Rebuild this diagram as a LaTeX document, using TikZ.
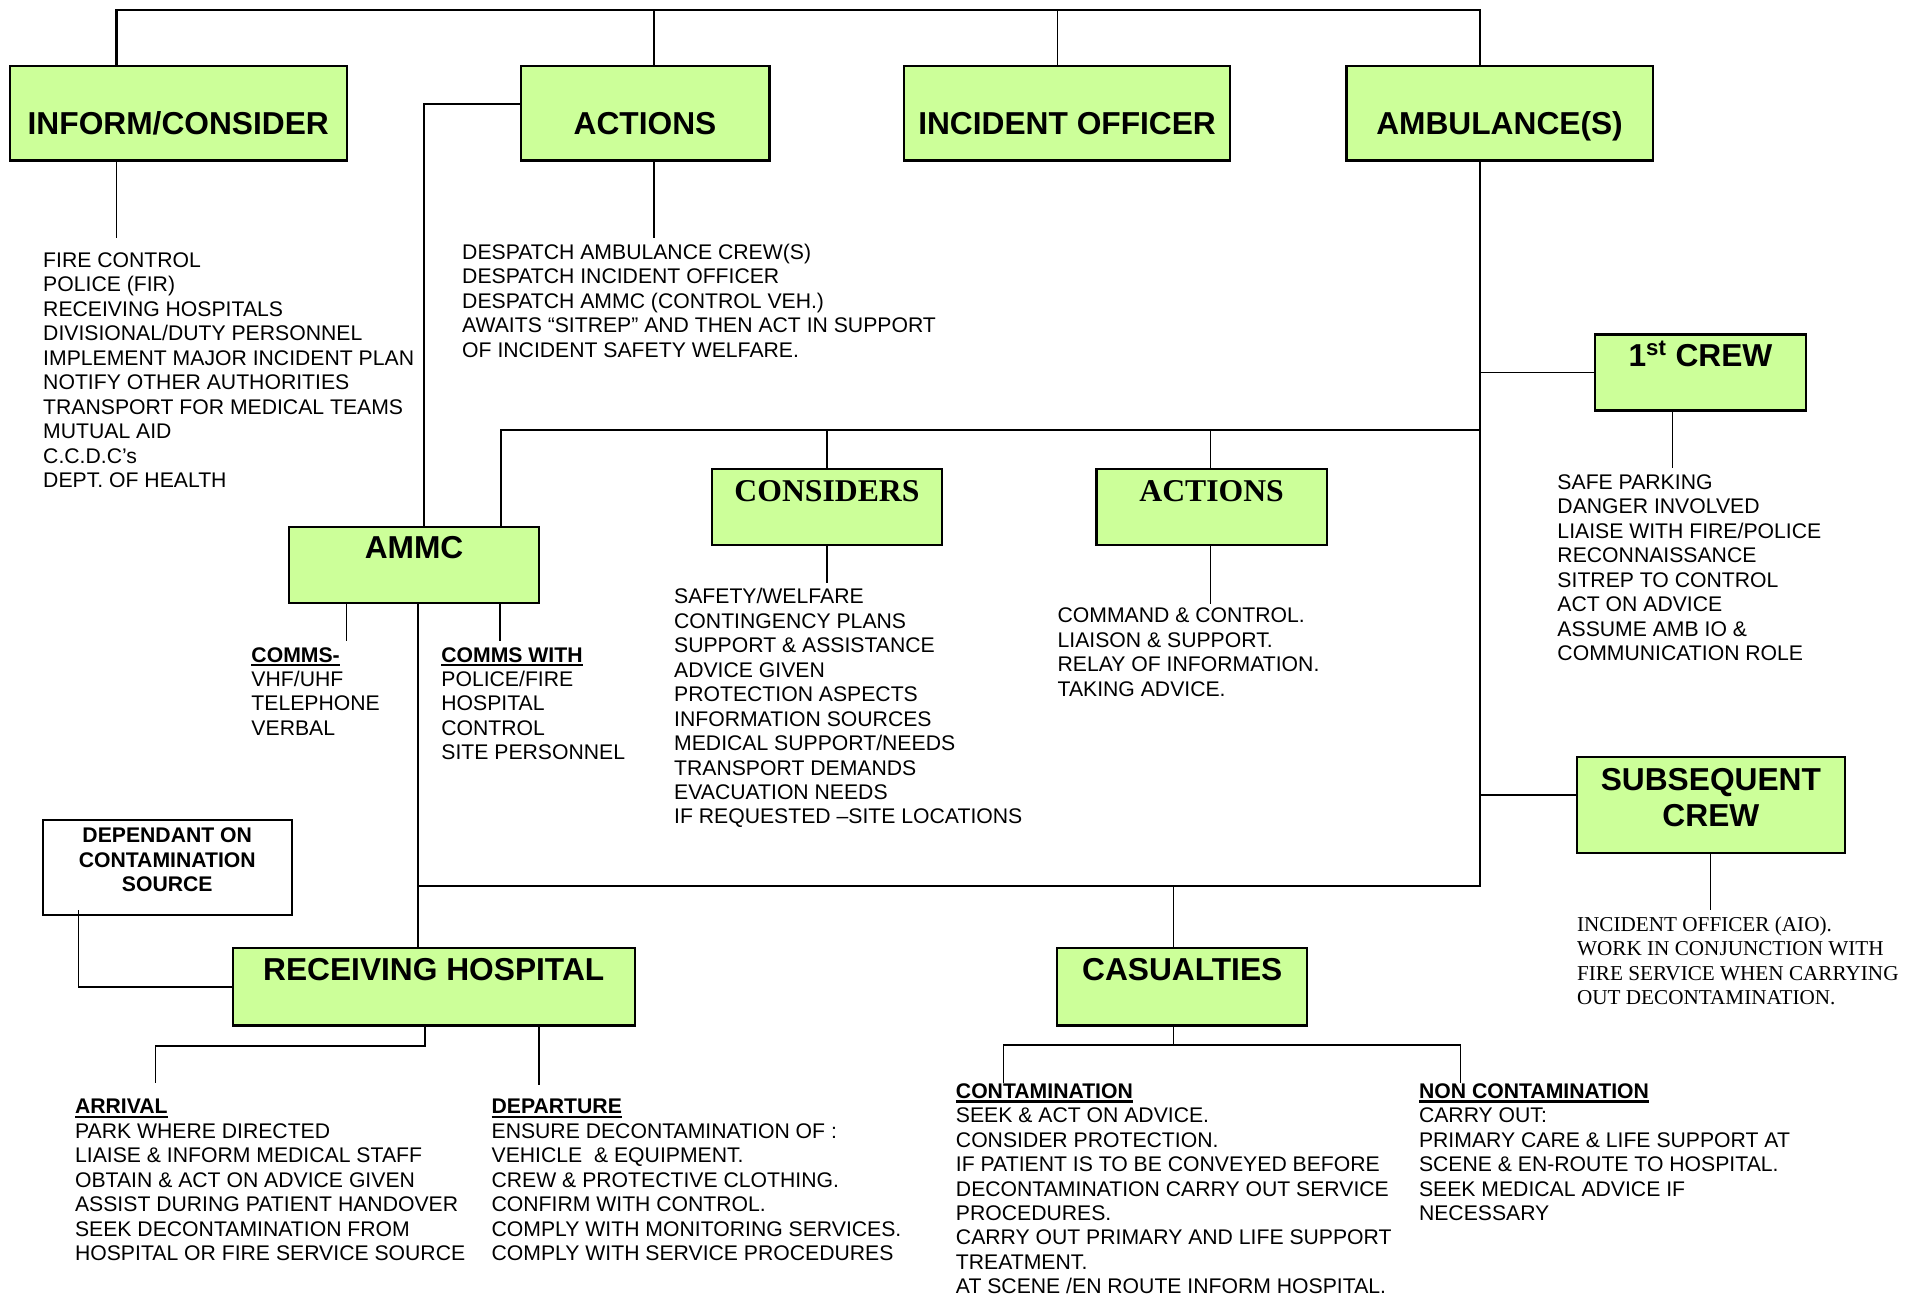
\documentclass[tikz,border=0pt]{standalone}
\usepackage{fontspec}
\setmainfont{Liberation Sans}
\newfontfamily\romfont{Liberation Serif}
\definecolor{boxgreen}{RGB}{204,255,153}
\newcommand{\uhead}[1]{\vtop{\hbox{\bfseries #1}\kern1.2pt\hrule height 1.2pt}}

\begin{document}
\begin{tikzpicture}[x=0.025cm, y=-0.025cm,
    bus/.style={line width=1.3pt, line join=miter},
    wire/.style={line width=0.9pt},
    greenbox/.style={draw, line width=1.3pt, fill=boxgreen, inner sep=0pt, font=\bfseries\fontsize{18.4}{21.3}\selectfont},
    big/.style={greenbox, minimum height=1.925cm, text height=0.86cm, text depth=0pt},
    head/.style={greenbox, minimum height=1.55cm, text height=0.46cm, text depth=0.7cm},
    serifhead/.style={head, font=\romfont\bfseries\fontsize{18.4}{21.3}\selectfont},
    note/.style={draw, line width=1.1pt, fill=white, inner sep=0pt, align=center, font=\bfseries\fontsize{12.3}{14.2}\selectfont},
    items/.style={anchor=north west, align=left, inner sep=0pt, font=\fontsize{12.3}{14.2}\selectfont},
    serifitems/.style={items, font=\romfont\fontsize{12.3}{14.2}\selectfont}]

    \useasboundingbox (0,0) rectangle (1568,1059);

    % === 第一行 ===
    \node[big, minimum width=6.875cm] (inform)  at (145.5,92.5) {INFORM/CONSIDER};
    \node[big, minimum width=5.075cm] (actA)    at (526.5,92.5) {ACTIONS};
    \node[big, minimum width=6.65cm]  (officer) at (871,92.5)   {INCIDENT OFFICER};
    \node[big, minimum width=6.25cm]  (amb)     at (1224,92.5)  {AMBULANCE(S)};

    % === 中间 ===
    \node[head, minimum width=4.3cm] (crew1) at (1388,304) {1\textsuperscript{st} CREW};
    \node[serifhead, minimum width=4.7cm] (considers) at (675,414) {CONSIDERS};
    \node[serifhead, minimum width=4.7cm] (actB) at (989,414) {ACTIONS};
    \node[head, minimum width=5.1cm] (ammc) at (338,461) {AMMC};
    \node[greenbox, align=center, text depth=0.3cm, minimum width=5.475cm, minimum height=1.95cm] (subseq) at (1396.5,657) {SUBSEQUENT\\CREW};
    \node[note, text depth=0.3cm, minimum width=5.075cm, minimum height=1.95cm] (dep) at (136.5,708) {DEPENDANT ON\\CONTAMINATION\\SOURCE};

    % === 下面 ===
    \node[head, minimum width=8.2cm, minimum height=1.575cm] (recv) at (354,805.5) {RECEIVING HOSPITAL};
    \node[head, minimum width=5.1cm, minimum height=1.575cm] (casualties) at (965,805.5) {CASUALTIES};

    % === 文字 ===
    \node[items] (informlist) at (35,206) {FIRE CONTROL\\POLICE (FIR)\\RECEIVING HOSPITALS\\DIVISIONAL/DUTY PERSONNEL\\IMPLEMENT MAJOR INCIDENT PLAN\\NOTIFY OTHER AUTHORITIES\\TRANSPORT FOR MEDICAL TEAMS\\MUTUAL AID\\C.C.D.C’s\\DEPT. OF HEALTH};
    \node[items] (actAlist) at (377,199) {DESPATCH AMBULANCE CREW(S)\\DESPATCH INCIDENT OFFICER\\DESPATCH AMMC (CONTROL VEH.)\\AWAITS “SITREP” AND THEN ACT IN SUPPORT\\OF INCIDENT SAFETY WELFARE.};
    \node[items] (crew1list) at (1271,387) {SAFE PARKING\\DANGER INVOLVED\\LIAISE WITH FIRE/POLICE\\RECONNAISSANCE\\SITREP TO CONTROL\\ACT ON ADVICE\\ASSUME AMB IO \&\\COMMUNICATION ROLE};
    \node[items] (considerslist) at (550,480) {SAFETY/WELFARE\\CONTINGENCY PLANS\\SUPPORT \& ASSISTANCE\\ADVICE GIVEN\\PROTECTION ASPECTS\\INFORMATION SOURCES\\MEDICAL SUPPORT/NEEDS\\TRANSPORT DEMANDS\\EVACUATION NEEDS\\IF REQUESTED –SITE LOCATIONS};
    \node[items] (actBlist) at (863,496) {COMMAND \& CONTROL.\\LIAISON \& SUPPORT.\\RELAY OF INFORMATION.\\TAKING ADVICE.};
    \node[items] (commsA) at (205,528) {\uhead{COMMS-}\\VHF/UHF\\TELEPHONE\\VERBAL};
    \node[items] (commsB) at (360,528) {\uhead{COMMS WITH}\\POLICE/FIRE\\HOSPITAL\\CONTROL\\SITE PERSONNEL};
    \node[serifitems] (subseqlist) at (1287,748) {INCIDENT OFFICER (AIO).\\WORK IN CONJUNCTION WITH\\FIRE SERVICE WHEN CARRYING\\OUT DECONTAMINATION.};
    \node[items] (arrival) at (61,897) {\uhead{ARRIVAL}\\PARK WHERE DIRECTED\\LIAISE \& INFORM MEDICAL STAFF\\OBTAIN \& ACT ON ADVICE GIVEN\\ASSIST DURING PATIENT HANDOVER\\SEEK DECONTAMINATION FROM\\HOSPITAL OR FIRE SERVICE SOURCE};
    \node[items] (departure) at (401,897) {\uhead{DEPARTURE}\\ENSURE DECONTAMINATION OF :\\VEHICLE\ \ \& EQUIPMENT.\\CREW \& PROTECTIVE CLOTHING.\\CONFIRM WITH CONTROL.\\COMPLY WITH MONITORING SERVICES.\\COMPLY WITH SERVICE PROCEDURES};
    \node[items] (contam) at (780,884) {\uhead{CONTAMINATION}\\SEEK \& ACT ON ADVICE.\\CONSIDER PROTECTION.\\IF PATIENT IS TO BE CONVEYED BEFORE\\DECONTAMINATION CARRY OUT SERVICE\\PROCEDURES.\\CARRY OUT PRIMARY AND LIFE SUPPORT\\TREATMENT.\\AT SCENE /EN ROUTE INFORM HOSPITAL.};
    \node[items] (noncontam) at (1158,884) {\uhead{NON CONTAMINATION}\\CARRY OUT:\\PRIMARY CARE \& LIFE SUPPORT AT\\SCENE \& EN-ROUTE TO HOSPITAL.\\SEEK MEDICAL ADVICE IF\\NECESSARY};

    % === 拐点 ===
    \coordinate (t1) at (95,8);
    \coordinate (t2) at (534,8);
    \coordinate (t3) at (863,8);
    \coordinate (t4) at (1208,8);
    \coordinate (k1) at (346,85);
    \coordinate (m0) at (409,351);
    \coordinate (m1) at (1208,351);
    \coordinate (s1) at (1208,649);
    \coordinate (q0) at (341,723);
    \coordinate (q1) at (1208,723);
    \coordinate (q2) at (958,723);
    \coordinate (e1) at (64,743);
    % 线的末端
    \coordinate (l1) at (95,194);
    \coordinate (a1) at (534,194);
    \coordinate (c1) at (1365,382);
    \coordinate (c2) at (1396,743);
    \coordinate (c3) at (675,476);
    \coordinate (c4) at (988,493);
    \coordinate (d1) at (283,523);
    \coordinate (d2) at (408,523);
    \coordinate (r1) at (347,854);
    \coordinate (r2) at (127,884);
    \coordinate (r3) at (440,886);
    \coordinate (u0) at (958,853);
    \coordinate (u1) at (819,884);
    \coordinate (u2) at (1192,884);

    % === 连线 ===
    % 顶部
    \draw[bus] (t1 |- inform.north) -- (t1) -- (t4) -- (t4 |- amb.north);
    \draw[wire] (t2) -- (t2 |- actA.north);
    \draw[wire] (t3) -- (t3 |- officer.north);
    \draw[wire] (l1 |- inform.south) -- (l1);
    \draw[wire] (a1 |- actA.south) -- (a1);

    % ACTIONS → AMMC
    \draw[wire] (k1 -| actA.west) -- (k1) -- (k1 |- ammc.north);

    % AMBULANCE(S)
    \draw[bus] (t4 |- amb.south) -- (q1) -- (q0);
    \draw[wire] (crew1.west) -- (crew1.west -| t4);
    \draw[wire] (s1) -- (s1 -| subseq.west);
    \draw[wire] (c1 |- crew1.south) -- (c1);
    \draw[wire] (c2 |- subseq.south) -- (c2);

    % 中间
    \draw[bus] (m0 |- ammc.north) -- (m0) -- (m1);
    \draw[wire] (considers.north) -- (considers.north |- m0);
    \draw[wire] (c4 |- actB.north) -- (c4 |- m0);
    \draw[wire] (considers.south) -- (c3);
    \draw[wire] (c4 |- actB.south) -- (c4);

    % AMMC
    \draw[wire] (d1 |- ammc.south) -- (d1);
    \draw[wire] (d2 |- ammc.south) -- (d2);
    \draw[wire] (q0 |- ammc.south) -- (q0 |- recv.north);

    % CASUALTIES
    \draw[wire] (q2) -- (q2 |- casualties.north);
    \draw[wire] (u0 |- casualties.south) -- (u0);
    \draw[wire] (u1) |- (u0) -| (u2);

    % RECEIVING HOSPITAL
    \draw[wire] (e1) |- (recv.west);
    \draw[wire] (r1 |- recv.south) -- (r1) -| (r2);
    \draw[wire] (r3 |- recv.south) -- (r3);

  \end{tikzpicture}
\end{document}
